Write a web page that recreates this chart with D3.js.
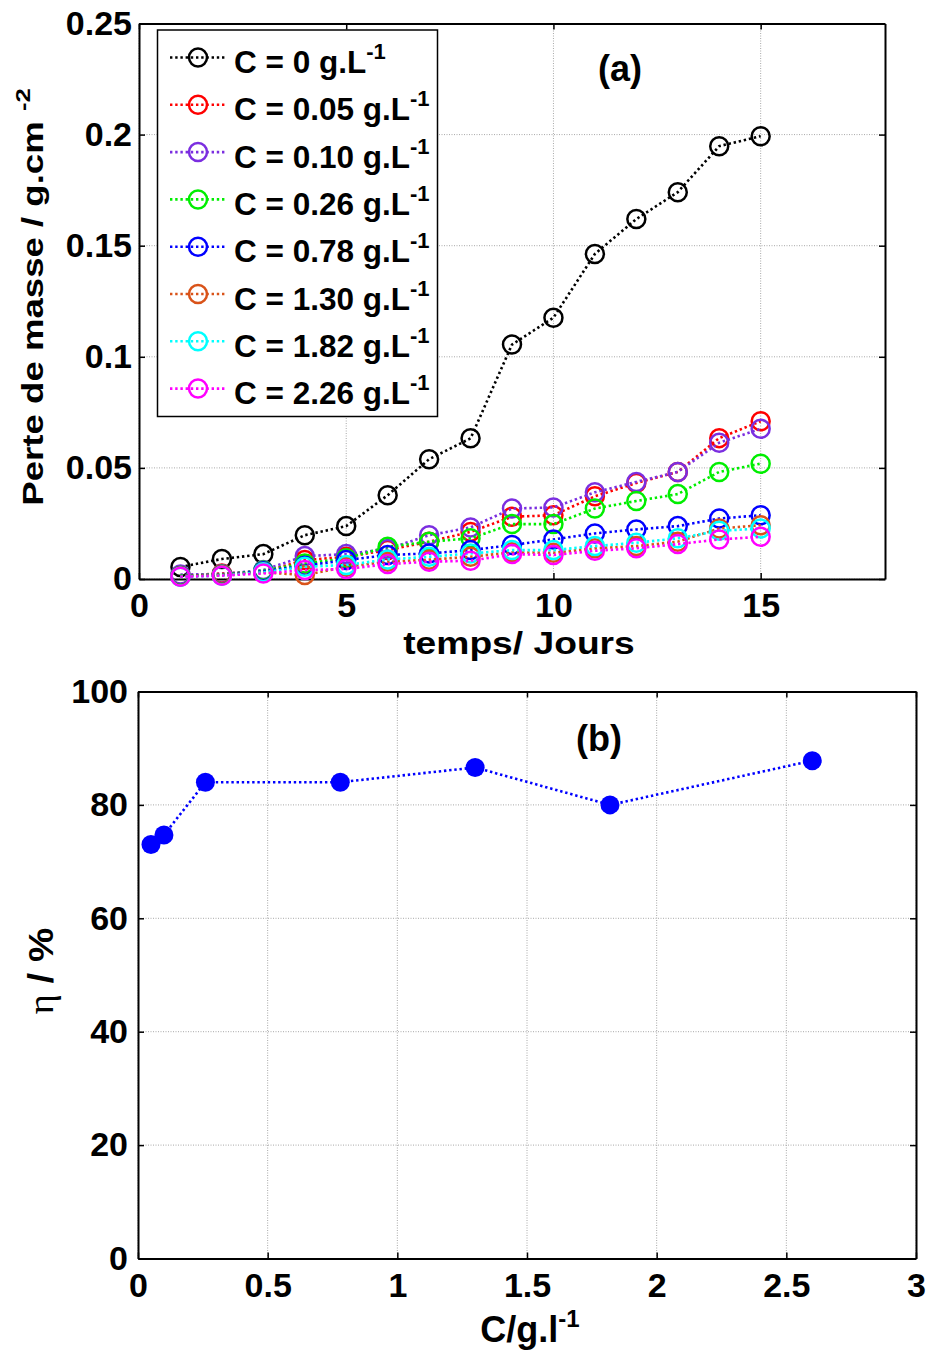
<!DOCTYPE html>
<html>
<head>
<meta charset="utf-8">
<script src="https://cdn.jsdelivr.net/npm/d3@7"></script>
<style>
body { margin: 0; background: #fff; }
text { font-family: "Liberation Sans", Arial, sans-serif; font-weight: bold; fill: #000; }
</style>
</head>
<body>
<svg id="fig" width="929" height="1350"></svg>
<script>
// ---- data (a) : mass loss vs time ----
const days = [1, 2, 3, 4, 5, 6, 7, 8, 9, 10, 11, 12, 13, 14, 15]
const concLabels = ["0", "0.05", "0.10", "0.26", "0.78", "1.30", "1.82", "2.26"]
const lossC0    = [0.0054, 0.0090, 0.0112, 0.0197, 0.0238, 0.0377, 0.0539, 0.0633, 0.1055, 0.1176, 0.1463, 0.1620, 0.1741, 0.1948, 0.1993]
const lossC005  = [0.0015, 0.0025, 0.0033, 0.0085, 0.0100, 0.0130, 0.0168, 0.0212, 0.0280, 0.0287, 0.0372, 0.0432, 0.0482, 0.0634, 0.0710]
const lossC010  = [0.0020, 0.0022, 0.0040, 0.0103, 0.0112, 0.0135, 0.0197, 0.0232, 0.0317, 0.0322, 0.0390, 0.0437, 0.0482, 0.0613, 0.0676]
const lossC026  = [0.0015, 0.0020, 0.0038, 0.0070, 0.0093, 0.0145, 0.0168, 0.0183, 0.0247, 0.0247, 0.0317, 0.0351, 0.0382, 0.0482, 0.0519]
const lossC078  = [0.0012, 0.0018, 0.0035, 0.0060, 0.0085, 0.0108, 0.0115, 0.0130, 0.0153, 0.0178, 0.0205, 0.0223, 0.0238, 0.0272, 0.0287]
const lossC130  = [0.0012, 0.0018, 0.0030, 0.0018, 0.0055, 0.0078, 0.0087, 0.0100, 0.0120, 0.0118, 0.0138, 0.0148, 0.0168, 0.0227, 0.0242]
const lossC182  = [0.0010, 0.0015, 0.0030, 0.0055, 0.0063, 0.0088, 0.0100, 0.0115, 0.0130, 0.0130, 0.0148, 0.0163, 0.0183, 0.0217, 0.0227]
const lossC226  = [0.0010, 0.0015, 0.0025, 0.0040, 0.0045, 0.0067, 0.0078, 0.0082, 0.0112, 0.0108, 0.0127, 0.0138, 0.0157, 0.0178, 0.0190]
const lossSeries = [lossC0, lossC005, lossC010, lossC026, lossC078, lossC130, lossC182, lossC226]
const colors = ["#000000", "#ff0000", "#7b2ee0", "#00ee00", "#0000ff", "#d95319", "#00ffff", "#ff00ff"]

const topXTicks = [0, 5, 10, 15]
const topYTicks = [0, 0.05, 0.1, 0.15, 0.2, 0.25]

// ---- data (b) : efficiency vs concentration ----
const concB = [0.05, 0.10, 0.26, 0.78, 1.30, 1.82, 2.60]
const eta   = [73.0, 74.7, 84.0, 84.0, 86.6, 80.0, 87.8]
const botXTicks = [0, 0.5, 1, 1.5, 2, 2.5, 3]
const botYTicks = [0, 20, 40, 60, 80, 100]

const svg = d3.select("#fig")

// axes box with grid + inward ticks (matlab like)
function frame(x, y, xt, yt, fx, fy, padL) {
    const g = svg.append("g")
    const [x0, x1] = x.range(), [y0, y1] = y.range()

    g.selectAll(".gx").data(xt).join("line")
        .attr("x1", d => x(d)).attr("x2", d => x(d))
        .attr("y1", y0).attr("y2", y1)
        .attr("stroke", "#a8a8a8").attr("stroke-width", 1).attr("stroke-dasharray", "1,1.5")
    g.selectAll(".gy").data(yt).join("line")
        .attr("x1", x0).attr("x2", x1)
        .attr("y1", d => y(d)).attr("y2", d => y(d))
        .attr("stroke", "#a8a8a8").attr("stroke-width", 1).attr("stroke-dasharray", "1,1.5")

    const bottom = g.append("g").attr("transform", `translate(0,${y0})`)
        .call(d3.axisBottom(x).tickValues(xt).tickFormat(fx).tickSizeInner(-6).tickSizeOuter(0).tickPadding(14))
    const left = g.append("g").attr("transform", `translate(${x0},0)`)
        .call(d3.axisLeft(y).tickValues(yt).tickFormat(fy).tickSizeInner(-6).tickSizeOuter(0).tickPadding(padL))
    g.append("g").attr("transform", `translate(0,${y1})`)
        .call(d3.axisTop(x).tickValues(xt).tickFormat("").tickSizeInner(-6).tickSizeOuter(0))
    g.append("g").attr("transform", `translate(${x1},0)`)
        .call(d3.axisRight(y).tickValues(yt).tickFormat("").tickSizeInner(-6).tickSizeOuter(0))

    g.selectAll(".domain").attr("stroke", "#000").attr("stroke-width", 2)
    g.selectAll(".tick line").attr("stroke", "#000").attr("stroke-width", 1.5)
    g.selectAll(".tick text").attr("font-size", 34).attr("font-family", null).attr("fill", "#000")
    return { g, bottom, left }
}

// ================= (a) =================
const xA = d3.scaleLinear().domain([0, 18]).range([139, 885])
const yA = d3.scaleLinear().domain([0, 0.25]).range([579, 23.5])
frame(xA, yA, topXTicks, topYTicks, d3.format("d"), d => d === 0 ? "0" : String(d), 7)

const lineA = d3.line().x((d, i) => xA(days[i])).y(d => yA(d))
lossSeries.forEach((s, k) => {
    const sg = svg.append("g")
    sg.append("path").datum(s).attr("d", lineA)
        .attr("fill", "none").attr("stroke", colors[k]).attr("stroke-width", 2.6)
        .attr("stroke-dasharray", "2.4,2.8")
    sg.selectAll("circle").data(s).join("circle")
        .attr("cx", (d, i) => xA(days[i])).attr("cy", d => yA(d)).attr("r", 9)
        .attr("fill", "none").attr("stroke", colors[k]).attr("stroke-width", 2.5)
})

// legend
const leg = svg.append("g")
leg.append("rect").attr("x", 157.5).attr("y", 30).attr("width", 280).attr("height", 386.5)
    .attr("fill", "#fff").attr("stroke", "#000").attr("stroke-width", 1.5)
concLabels.forEach((c, k) => {
    const yy = 57.5 + k * 47.3
    leg.append("line").attr("x1", 170).attr("x2", 226).attr("y1", yy).attr("y2", yy)
        .attr("stroke", colors[k]).attr("stroke-width", 2.6).attr("stroke-dasharray", "2.4,2.8")
    leg.append("circle").attr("cx", 198).attr("cy", yy).attr("r", 9)
        .attr("fill", "none").attr("stroke", colors[k]).attr("stroke-width", 2.5)
    const t = leg.append("text").attr("x", 234).attr("y", yy + 15.5).attr("font-size", 31.5)
    t.append("tspan").text(`C = ${c} g.L`)
    t.append("tspan").attr("dy", -14).attr("font-size", 22).text("-1")
})

svg.append("text").attr("x", 620).attr("y", 81).attr("text-anchor", "middle")
    .attr("font-size", 36).text("(a)")

svg.append("text").attr("transform", "translate(519,654) scale(1.22,1)")
    .attr("text-anchor", "middle").attr("font-size", 30.5).text("temps/ Jours")

const yl = svg.append("text").attr("transform", "translate(43,297) rotate(-90) scale(1.22,1)")
    .attr("text-anchor", "middle").attr("font-size", 30)
yl.append("tspan").text("Perte de masse / g.cm ")
yl.append("tspan").attr("dy", -13).attr("font-size", 21).text("-2")

// ================= (b) =================
const xB = d3.scaleLinear().domain([0, 3]).range([138, 916])
const yB = d3.scaleLinear().domain([0, 100]).range([1258.5, 691.5])
frame(xB, yB, botXTicks, botYTicks, d => String(d), d => String(d), 10)

const lineB = d3.line().x((d, i) => xB(concB[i])).y(d => yB(d))
svg.append("path").datum(eta).attr("d", lineB)
    .attr("fill", "none").attr("stroke", "#0000ff").attr("stroke-width", 2.6)
    .attr("stroke-dasharray", "2.4,2.8")
svg.append("g").selectAll("circle").data(eta).join("circle")
    .attr("cx", (d, i) => xB(concB[i])).attr("cy", d => yB(d)).attr("r", 9.5)
    .attr("fill", "#0000ff")

svg.append("text").attr("x", 599).attr("y", 751).attr("text-anchor", "middle")
    .attr("font-size", 36).text("(b)")

const xl = svg.append("text").attr("x", 530).attr("y", 1342).attr("text-anchor", "middle").attr("font-size", 36)
xl.append("tspan").text("C/g.l")
xl.append("tspan").attr("dy", -15).attr("font-size", 24).text("-1")

const el = svg.append("text").attr("transform", "translate(53,971) rotate(-90) scale(1.1,1)")
    .attr("text-anchor", "middle").attr("font-size", 35)
el.append("tspan").attr("font-family", "'Liberation Serif', 'DejaVu Serif', serif").attr("font-weight", "normal").text("η")
el.append("tspan").text(" / %")
</script>
</body>
</html>
